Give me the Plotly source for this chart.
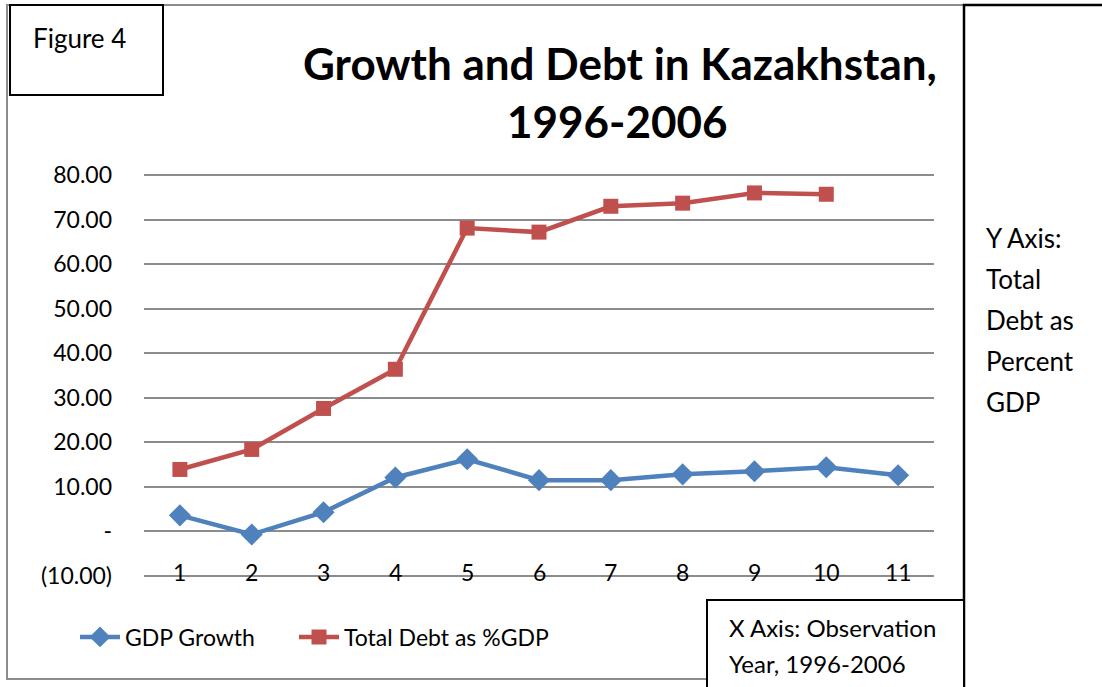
import plotly.graph_objects as go

# Observation years 1..11 (1996-2006)
years = [1, 2, 3, 4, 5, 6, 7, 8, 9, 10, 11]
gdp_growth = [3.6, -0.7, 4.3, 12.1, 16.2, 11.5, 11.5, 12.8, 13.5, 14.4, 12.6]
debt_years = [1, 2, 3, 4, 5, 6, 7, 8, 9, 10]
total_debt = [13.9, 18.4, 27.6, 36.4, 68.1, 67.2, 73.0, 73.7, 76.0, 75.7]

y_ticks = [-10, 0, 10, 20, 30, 40, 50, 60, 70, 80]
y_tick_text = ["(10.00)", "-", "10.00", "20.00", "30.00", "40.00",
               "50.00", "60.00", "70.00", "80.00"]

BLUE = "#4F81BD"
RED = "#C0504D"
FONT = "Lato, Open Sans, sans-serif"

W, H = 1102, 687
L, R, T, B = 144, 934, 174, 577  # plot-area pixel bounds


def px(x):
    return (x - L) / (R - L)


def py(y):
    return (B - y) / (B - T)


fig = go.Figure()
fig.add_trace(go.Scatter(
    x=years, y=gdp_growth, name="GDP Growth", mode="lines+markers",
    line=dict(color=BLUE, width=4.5),
    marker=dict(symbol="diamond", size=17, color=BLUE),
    legend="legend",
))
fig.add_trace(go.Scatter(
    x=debt_years, y=total_debt, name="Total Debt as %GDP", mode="lines+markers",
    line=dict(color=RED, width=4.5),
    marker=dict(symbol="square", size=15, color=RED),
    legend="legend2",
))

legend_style = dict(orientation="h", y=py(637), xanchor="left",
                    yanchor="middle", font=dict(size=23), itemwidth=40,
                    bgcolor="rgba(0,0,0,0)")

fig.update_layout(
    width=W, height=H,
    margin=dict(l=L, r=W - R, t=T, b=H - B),
    paper_bgcolor="white", plot_bgcolor="white",
    font=dict(family=FONT, size=23, color="black"),
    showlegend=True,
    legend=dict(x=px(75), **legend_style),
    legend2=dict(x=px(294), **legend_style),
    xaxis=dict(range=[0.5, 11.5], showgrid=False, showticklabels=False,
               zeroline=False, showline=False, ticks=""),
    yaxis=dict(range=[-10.25, 80.25], tickvals=y_ticks, ticktext=y_tick_text,
               showgrid=True, gridcolor="#8C8C8C", gridwidth=1.5,
               zeroline=False, showline=False, ticks="",
               ticklabelstandoff=31, tickfont=dict(size=23)),
)

# Category labels sit on the bottom axis line, as in the spreadsheet chart
for yr in years:
    fig.add_annotation(x=yr, y=-10, xref="x", yref="y", text=str(yr),
                       showarrow=False, yanchor="middle", yshift=4,
                       font=dict(size=23))

# Title
fig.add_annotation(x=px(620), y=py(63), xref="paper", yref="paper",
                   text="<b>Growth and Debt in Kazakhstan,</b>", showarrow=False,
                   font=dict(size=44), xanchor="center", yanchor="middle")
fig.add_annotation(x=px(617), y=py(121), xref="paper", yref="paper",
                   text="<b>1996-2006</b>", showarrow=False,
                   font=dict(size=44), xanchor="center", yanchor="middle")

# Outer chart frame
fig.add_shape(type="rect", xref="paper", yref="paper",
              x0=px(7), x1=px(964), y0=py(679), y1=py(5),
              line=dict(color="#8C8C8C", width=2), layer="below")

# Figure label box
fig.add_shape(type="rect", xref="paper", yref="paper",
              x0=px(10), x1=px(163), y0=py(95), y1=py(5),
              line=dict(color="black", width=2), fillcolor="white")
fig.add_annotation(x=px(31), y=py(38), xref="paper", yref="paper",
                   text="Figure 4", showarrow=False, xanchor="left",
                   yanchor="middle", font=dict(size=26))

# Y-axis note box
fig.add_shape(type="rect", xref="paper", yref="paper",
              x0=px(964), x1=px(1105), y0=py(690), y1=py(5),
              line=dict(color="black", width=2.5), fillcolor="white")
for i, line in enumerate(["Y Axis:", "Total", "Debt as", "Percent", "GDP"]):
    fig.add_annotation(x=px(984), y=py(238 + 41 * i), xref="paper", yref="paper",
                       text=line, showarrow=False, xanchor="left",
                       yanchor="middle", font=dict(size=26))

# X-axis note box
fig.add_shape(type="rect", xref="paper", yref="paper",
              x0=px(707), x1=px(964), y0=py(690), y1=py(600),
              line=dict(color="black", width=2), fillcolor="white")
for i, line in enumerate(["X Axis: Observation", "Year, 1996-2006"]):
    fig.add_annotation(x=px(727), y=py(627 + 36 * i), xref="paper", yref="paper",
                       text=line, showarrow=False, xanchor="left",
                       yanchor="middle", font=dict(size=24))

fig.write_html("out.html")
